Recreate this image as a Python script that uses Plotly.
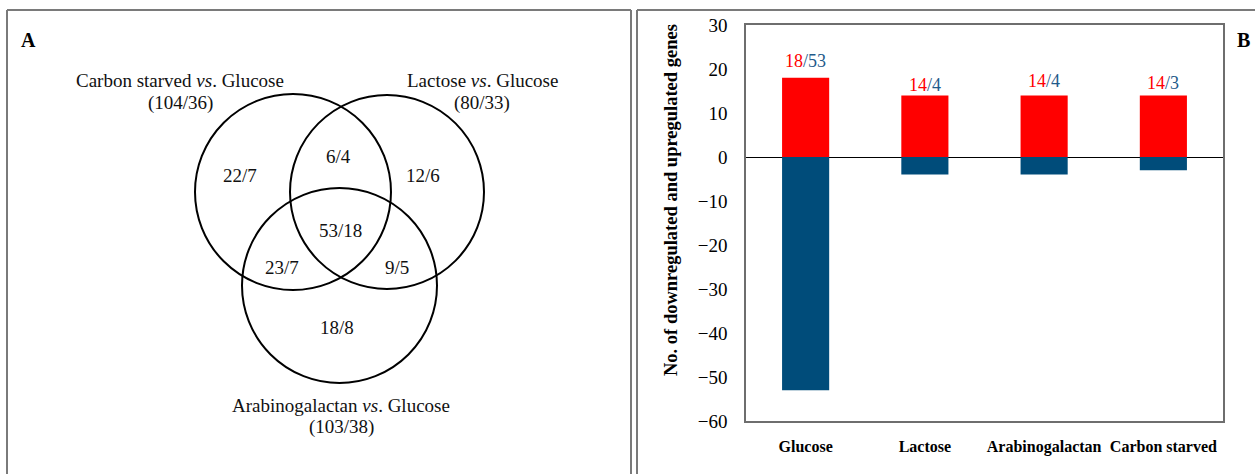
import plotly.graph_objects as go

# ---- Panel B data: differentially expressed genes per carbon source ----
conditions = ["Glucose", "Lactose", "Arabinogalactan", "Carbon starved"]
upregulated = [18, 14, 14, 14]
downregulated = [53, 4, 4, 3]
y_ticks = [-60, -50, -40, -30, -20, -10, 0, 10, 20, 30]

# ---- Panel A data: Venn diagram counts (up/down) ----
venn_sets = ["Carbon starved", "Lactose", "Arabinogalactan"]
venn_totals = ["104/36", "80/33", "103/38"]
venn_regions = ["22/7", "12/6", "18/8", "6/4", "23/7", "9/5", "53/18"]

W, H = 1255, 474
RED = "#FF0000"
BLUE_BAR = "#004C7A"
BLUE_TXT = "#1F5A8A"
SERIF = "Liberation Serif, Times New Roman, serif"

fig = go.Figure()

# Bars (relative mode stacks the positive and negative parts around zero)
fig.add_trace(go.Bar(x=conditions, y=upregulated, marker=dict(color=RED, line=dict(width=0)),
                     name="Upregulated", hoverinfo="x+y"))
fig.add_trace(go.Bar(x=conditions, y=[-d for d in downregulated],
                     marker=dict(color=BLUE_BAR, line=dict(width=0)),
                     name="Downregulated", hoverinfo="x+y"))

# Layout helpers: pixel -> paper
def px(x):
    return x / W

def py(y):
    return 1 - y / H

plot_l, plot_r, plot_t, plot_b = 746, 1223, 25, 421

fig.update_layout(
    width=W, height=H,
    margin=dict(l=0, r=0, t=0, b=0, autoexpand=False),
    paper_bgcolor="white", plot_bgcolor="white",
    barmode="relative", bargap=0.605,
    showlegend=False,
    font=dict(family=SERIF, color="black"),
    xaxis=dict(
        domain=[px(plot_l), px(plot_r)],
        type="category", range=[-0.5, 3.5],
        showline=True, mirror=True, linecolor="#6e6e6e", linewidth=1.5,
        ticks="", showgrid=False, automargin=False,
        tickfont=dict(family=SERIF, size=16, color="black", weight="bold"),
        ticklabelstandoff=10,
    ),
    yaxis=dict(
        domain=[py(plot_b), py(plot_t)],
        range=[-60, 30], tickvals=y_ticks,
        showline=True, mirror=True, linecolor="#6e6e6e", linewidth=1.5,
        showgrid=False, zeroline=True, zerolinecolor="black", zerolinewidth=1,
        ticks="", tickfont=dict(family=SERIF, size=19, color="black"),
        ticklabelstandoff=13, automargin=False,
    ),
    # Venn panel uses a pixel-scaled hidden axis pair
    xaxis2=dict(domain=[0, px(631)], range=[0, 631], visible=False, anchor="y2"),
    yaxis2=dict(domain=[0, 1], range=[H, 0], visible=False, anchor="x2"),
)

shapes = []
frame = dict(color="#7a7a7a", width=2)
# Panel frames (open at the bottom edge)
for x0, x1 in [(7, 631), (637, W)]:
    shapes.append(dict(type="line", xref="paper", yref="paper",
                       x0=px(x0), x1=px(x1), y0=py(10), y1=py(10), line=frame))
    shapes.append(dict(type="line", xref="paper", yref="paper",
                       x0=px(x0), x1=px(x0), y0=py(10), y1=0, line=frame))
shapes.append(dict(type="line", xref="paper", yref="paper",
                   x0=px(631), x1=px(631), y0=py(10), y1=0, line=frame))

# Venn circles (centre x, centre y, radius) in panel pixels
circles = [(293, 192, 98), (387, 192, 97), (339.5, 285.5, 97.5)]
for cx, cy, r in circles:
    shapes.append(dict(type="circle", xref="x2", yref="y2",
                       x0=cx - r, x1=cx + r, y0=cy - r, y1=cy + r,
                       line=dict(color="black", width=2)))
fig.update_layout(shapes=shapes)

ann = []
venn_font = dict(family=SERIF, size=19, color="#111111")

# Set titles with totals
title_pos = [(180, 80, 103), (482, 80, 103), (341, 405, 427)]
for name, total, (tx, ty1, ty2) in zip(venn_sets, venn_totals, title_pos):
    ann.append(dict(x=tx, y=ty1, xref="x2", yref="y2", showarrow=False,
                    text=f"{name} <i>vs</i>. Glucose", font=venn_font))
    ann.append(dict(x=tx, y=ty2, xref="x2", yref="y2", showarrow=False,
                    text=f"({total})", font=venn_font))

# Region counts
region_pos = [(240, 175), (423, 175), (337, 327), (338, 156), (282, 267), (397, 267), (340, 230)]
for lab, (rx, ry) in zip(venn_regions, region_pos):
    ann.append(dict(x=rx, y=ry, xref="x2", yref="y2", showarrow=False,
                    text=lab, font=venn_font))

# Panel letters
for letter, lx in [("A", 28), ("B", 1243)]:
    ann.append(dict(x=px(lx), y=py(40), xref="paper", yref="paper", showarrow=False,
                    xanchor="center", yanchor="middle",
                    text=f"<b>{letter}</b>", font=dict(family=SERIF, size=20, color="black")))

# Y-axis title
ann.append(dict(x=px(671), y=py(200), xref="paper", yref="paper", showarrow=False,
                xanchor="center", yanchor="middle", textangle=-90,
                text="<b>No. of downregulated and upregulated genes</b>",
                font=dict(family=SERIF, size=18.5, color="black")))

# Up/down labels above each bar
label_shift = [5, -2, 2, 0]
for cond, up, down, sh in zip(conditions, upregulated, downregulated, label_shift):
    ann.append(dict(x=cond, y=up, xref="x", yref="y", showarrow=False,
                    yanchor="bottom", yshift=sh,
                    text=f"<span style='color:{RED}'>{up}</span>"
                         f"<span style='color:{BLUE_TXT}'>/{down}</span>",
                    font=dict(family=SERIF, size=18)))

fig.update_layout(annotations=ann)

fig.write_html("out.html")
